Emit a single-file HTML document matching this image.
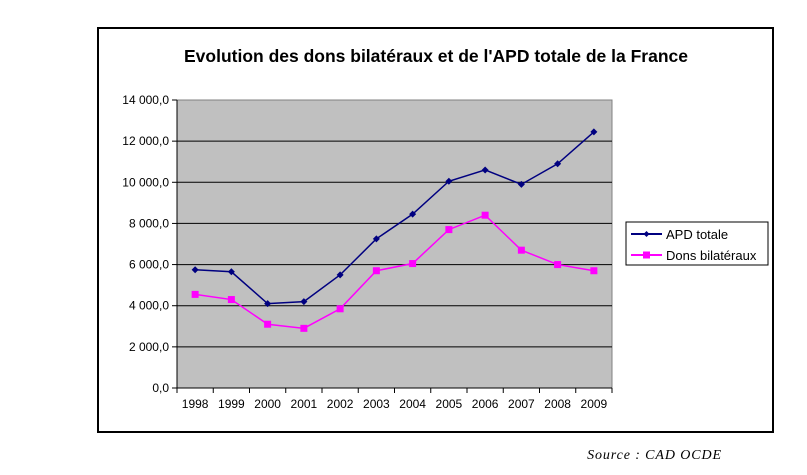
<!DOCTYPE html>
<html><head><meta charset="utf-8"><style>
body{margin:0;background:#fff;width:807px;height:470px;overflow:hidden}
svg text{font-family:"Liberation Sans",Arial,sans-serif}
</style></head><body>
<svg width="807" height="470">
<rect x="98" y="28" width="675" height="404" fill="#fff" stroke="#000" stroke-width="2"/>
<text x="436" y="62" text-anchor="middle" font-size="17.5" font-weight="bold">Evolution des dons bilatéraux et de l'APD totale de la France</text>
<rect x="177" y="100" width="435" height="288" fill="#c0c0c0" stroke="#808080"/>
<g id="grid"></g><g id="axes"></g><g id="series"></g>
<g>
<rect x="626" y="222" width="142" height="43" fill="#fff" stroke="#000"/>
<line x1="631" y1="234" x2="662" y2="234" stroke="#000080" stroke-width="2"/>
<path d="M646.5,231 L649.5,234 L646.5,237 L643.5,234Z" fill="#000080"/>
<text x="666" y="239" font-size="13">APD totale</text>
<line x1="631" y1="255" x2="662" y2="255" stroke="#ff00ff" stroke-width="2"/>
<rect x="643" y="251.5" width="7" height="7" fill="#ff00ff"/>
<text x="666" y="260" font-size="13">Dons bilatéraux</text>
</g>
<text x="722" y="459" text-anchor="end" font-size="14" font-style="italic" letter-spacing="0.9" style="font-family:'Liberation Serif',serif">Source : CAD OCDE</text>
</svg>
<script>
const years=["1998","1999","2000","2001","2002","2003","2004","2005","2006","2007","2008","2009"];
const apd=[5750,5650,4100,4200,5500,7250,8450,10050,10600,9900,10900,12450];
const dons=[4550,4300,3100,2900,3850,5700,6050,7700,8400,6700,6000,5700];
const ticks=[0,2000,4000,6000,8000,10000,12000,14000];
const tickLabels=["0,0","2 000,0","4 000,0","6 000,0","8 000,0","10 000,0","12 000,0","14 000,0"];
const NS="http://www.w3.org/2000/svg";
const X0=177,W=435,Y0=388,H=288,YMAX=14000;
const xs=i=>X0+(i+0.5)*W/years.length;
const ys=v=>Y0-v/YMAX*H;
function mk(t,a,p){const e=document.createElementNS(NS,t);for(const k in a)e.setAttribute(k,a[k]);p.appendChild(e);return e;}
const grid=document.getElementById('grid'),axes=document.getElementById('axes'),ser=document.getElementById('series');
ticks.forEach((v,i)=>{
 if(v>0&&v<YMAX){const l=mk('line',{x1:X0,x2:X0+W,y1:ys(v),y2:ys(v),stroke:'#000','stroke-width':1},grid);
 
 }
 mk('line',{x1:X0-5,x2:X0,y1:ys(v),y2:ys(v),stroke:'#000'},axes);
 const t=mk('text',{x:X0-8,y:ys(v)+4,'text-anchor':'end','font-size':12},axes);t.textContent=tickLabels[i];
 
 
});
mk('line',{x1:X0,x2:X0,y1:100,y2:Y0,stroke:'#000'},axes);
mk('line',{x1:X0,x2:X0+W,y1:Y0,y2:Y0,stroke:'#000'},axes);
years.forEach((y,i)=>{
 const x=X0+i*W/years.length;mk('line',{x1:x,x2:x,y1:Y0,y2:Y0+5,stroke:'#000'},axes);
 const t=mk('text',{x:xs(i),y:Y0+20,'text-anchor':'middle','font-size':12},axes);t.textContent=y;
 
 
});
mk('line',{x1:X0+W,x2:X0+W,y1:Y0,y2:Y0+5,stroke:'#000'},axes);
function line(data,color,name){
 const p=mk('polyline',{points:data.map((v,i)=>xs(i)+','+ys(v)).join(' '),fill:'none',stroke:color,'stroke-width':1.5},ser);
 
 
}
line(apd,'#000080','apd');
line(dons,'#ff00ff','dons');
apd.forEach((v,i)=>{const x=xs(i),y=ys(v);
 const m=mk('path',{d:`M${x},${y-3.5}L${x+3.5},${y}L${x},${y+3.5}L${x-3.5},${y}Z`,fill:'#000080'},ser);
 
 });
dons.forEach((v,i)=>{const x=xs(i),y=ys(v);
 const m=mk('rect',{x:x-3.5,y:y-3.5,width:7,height:7,fill:'#ff00ff'},ser);
 
 });
</script>
</body></html>
